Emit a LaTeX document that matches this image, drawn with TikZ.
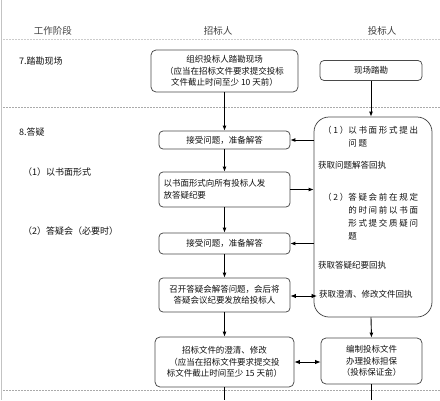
\documentclass[tikz,border=0pt]{standalone}
\usepackage{fontspec}
\setmainfont{Noto Sans CJK SC}
\newfontfamily\widecjk[LetterSpace=20]{Noto Sans CJK SC}
\usetikzlibrary{arrows.meta}
\definecolor{txt}{HTML}{111111}
\definecolor{edge}{HTML}{4A4A4A}
\definecolor{sep}{HTML}{AAAAAA}
\tikzset{
  boxnode/.style={draw=edge, line width=0.75pt, rounded corners=4pt, align=center, inner sep=1pt,
    font=\fontsize{8.5}{11.5}\selectfont, text=txt},
  lbl/.style={anchor=base west, inner sep=0pt, font=\fontsize{9}{11}\selectfont, text=txt},
  hdr/.style={anchor=base, inner sep=0pt, font=\fontsize{9.5}{11}\selectfont, text=txt!80},
  inlbl/.style={anchor=base west, inner sep=0pt, font=\fontsize{8.5}{13}\selectfont, text=txt},
  conn/.style={line width=0.9pt, draw=black},
  arr/.style={conn, -{Latex[length=5pt,width=4pt]}},
  darr/.style={conn, {Latex[length=5.5pt,width=4.5pt]}-{Latex[length=5.5pt,width=4.5pt]}},
  sepline/.style={draw=sep, line width=0.6pt, dash pattern=on 2pt off 1pt},
}
\begin{document}
\begin{tikzpicture}[x=1pt,y=-1pt]
\useasboundingbox[fill=white] (0,0) rectangle (440,400);
% frame and separators
\coordinate (fl1) at (1,0); \coordinate (fl2) at (1,400);
\draw[draw=sep!70, line width=0.8pt] (fl1) -- (fl2);
\coordinate (s1a) at (3,39); \coordinate (s1b) at (440,39);
\coordinate (s2a) at (3,107); \coordinate (s2b) at (440,107);
\coordinate (s3a) at (3,390); \coordinate (s3b) at (440,390);
\draw[sepline, draw=sep!60] (s1a) -- (s1b);
\draw[sepline] (s2a) -- (s2b);
\draw[sepline] (s3a) -- (s3b);
% headers
\node[hdr] (h1) at (53,34) {工作阶段};
\node[hdr] (h2) at (218,34) {招标人};
\node[hdr] (h3) at (382,34) {投标人};
% stage labels
\node[lbl] (l7) at (19,64) {7.踏勘现场};
\node[lbl] (l8) at (19,135) {8.答疑};
\node[lbl] (l81) at (23,175) {（1）以书面形式};
\node[lbl] (l82) at (23,234) {（2）答疑会（必要时）};
% left column boxes
\node[boxnode, rounded corners=5pt, minimum width=147pt, minimum height=42pt] (b1) at (224.5,71)
  {组织投标人踏勘现场\\（应当在招标文件要求提交投标\\文件截止时间至少 10 天前）};
\node[boxnode, minimum width=131pt, minimum height=18pt] (a1) at (224.5,140) {接受问题，准备解答};
\node[boxnode, minimum width=131pt, minimum height=35pt, align=left, text width=122pt] (bw) at (224.5,189.5)
  {以书面形式向所有投标人发\\放答疑纪要};
\node[boxnode, minimum width=131pt, minimum height=21pt] (a2) at (224.5,243.5) {接受问题，准备解答};
\node[boxnode, minimum width=131pt, minimum height=34pt] (dm) at (224.5,295)
  {召开答疑会解答问题，会后将\\答疑会议纪要发放给投标人};
\node[boxnode, rounded corners=5pt, minimum width=139pt, minimum height=50pt] (cl) at (224.5,362)
  {招标文件的澄清、修改\\（应当在招标文件要求提交投\\标文件截止时间至少 15 天前）};
% right column boxes
\node[boxnode, minimum width=102pt, minimum height=20pt] (b2) at (371,70.5) {现场踏勘};
\node[boxnode, rounded corners=15pt, minimum width=118pt, minimum height=200pt] (big) at (373,217) {};
\node[boxnode, rounded corners=5pt, minimum width=101pt, minimum height=46pt] (pr) at (371.5,361)
  {编制投标文件\\办理投标担保\\（投标保证金）};
% texts inside the big box
\node[inlbl] (q1) at (323,133) {\widecjk\begin{tabular}[t]{@{}l@{}l@{}}（1）&以书面形式提出\\&问题\end{tabular}};
\node[inlbl] (r1) at (318,168) {获取问题解答回执};
\node[inlbl] (q2) at (323,200) {\widecjk\begin{tabular}[t]{@{}l@{}l@{}}（2）&答疑会前在规定\\&的时间前以书面\\&形式提交质疑问\\&题\end{tabular}};
\node[inlbl] (r2) at (318,268) {获取答疑纪要回执};
\node[inlbl] (r3) at (319,297.5) {获取澄清、修改文件回执};
% vertical connectors, left column
\draw[arr] (b1.south) -- (a1.north);
\draw[arr] (a1.south) -- (bw.north);
\draw[arr] (bw.south) -- (a2.north);
\draw[arr] (a2.south) -- (dm.north);
\draw[arr] (dm.south) -- (cl.north);
\coordinate (endl) at (224.5,400);
\draw[conn] (cl.south) -- (endl);
% vertical connectors, right column
\draw[arr] (b2.south) -- (b2.south |- big.north);
\draw[arr] (b2.south |- big.south) -- (pr.north);
\coordinate (endr) at (371.5,400);
\draw[conn] (pr.south) -- (endr);
% horizontal connectors
\draw[arr] (big.west |- a1.east) -- (a1.east);
\draw[arr] (bw.east) -- (big.west |- bw.east);
\draw[arr] (big.west |- a2.east) -- (a2.east);
\coordinate (dmr) at (317,296);
\draw[darr] (dm.east |- dmr) -- (dmr);
\draw[darr] (cl.east) -- (pr.west |- cl.east);
\end{tikzpicture}
\end{document}
